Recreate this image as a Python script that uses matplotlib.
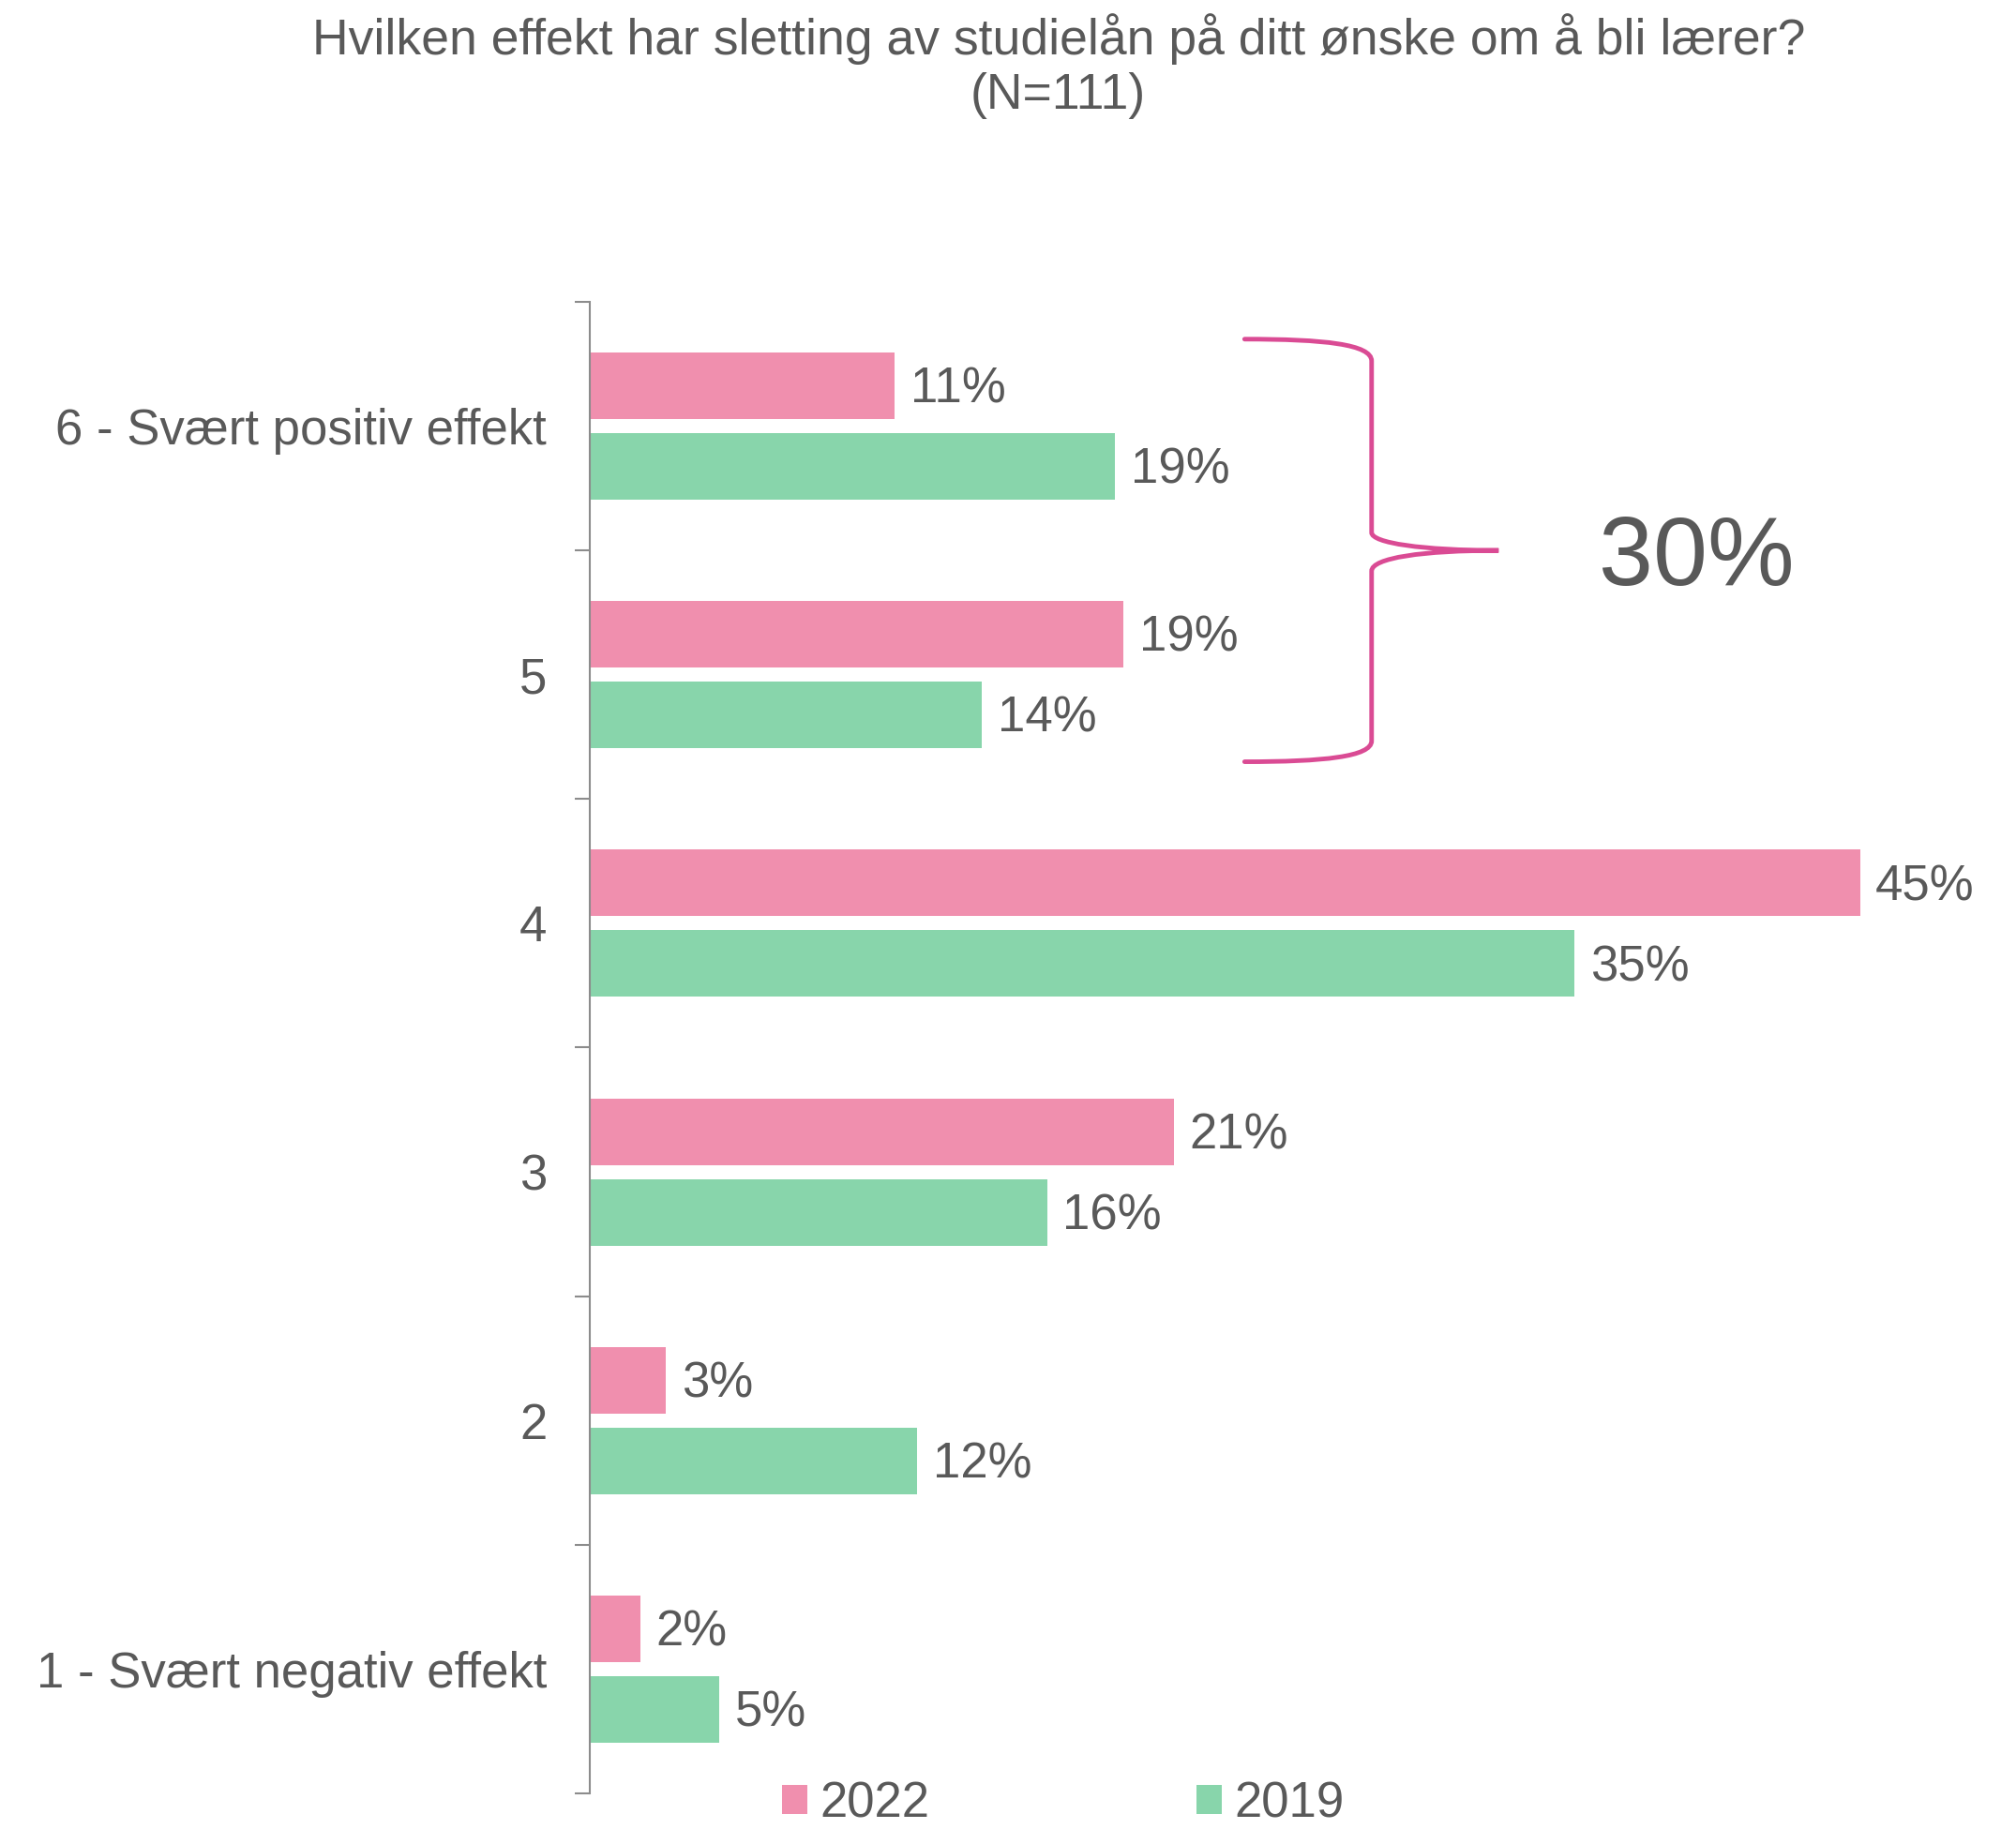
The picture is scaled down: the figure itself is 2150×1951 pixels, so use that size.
import matplotlib
matplotlib.use("Agg")
import matplotlib.pyplot as plt
from matplotlib.path import Path
import matplotlib.patches as patches
import numpy as np

plt.rcParams['font.family'] = ['Liberation Sans', 'DejaVu Sans']

# data (top to bottom)
categories = ["6 - Svært positiv effekt", "5", "4", "3", "2", "1 - Svært negativ effekt"]
series_names = ["2022", "2019"]
values_2022 = [10.8, 18.9, 45.0, 20.7, 2.7, 1.8]
values_2019 = [18.6, 13.9, 34.9, 16.2, 11.6, 4.6]
brace_total = "30%"

pink = "#F08FAE"
green = "#88D5AB"
brace_col = "#DA4B94"
txt = "#595959"
spine_col = "#8C8C8C"

fig = plt.figure(figsize=(21.5, 19.51), dpi=100)
ax = fig.add_axes([0.29256, 0.01948, 0.7, 0.81548])

y = np.arange(len(categories))
h = 0.268
off = 0.162
b1 = ax.barh(y - off, values_2022, height=h, color=pink, label=series_names[0])
b2 = ax.barh(y + off, values_2019, height=h, color=green, label=series_names[1])

for bars, vals in ((b1, values_2022), (b2, values_2019)):
    for rect, v in zip(bars, vals):
        ax.annotate(f"{int(v + 0.5)}%", (v, rect.get_y() + rect.get_height() / 2),
                    xytext=(12, -3), textcoords="offset points",
                    ha="left", va="center", fontsize=38, color=txt, clip_on=False)

ax.set_xlim(0, 50)
ax.set_ylim(len(categories) - 0.5, -0.5)

# ticks on category boundaries, labels at centres
ax.set_yticks(np.arange(-0.5, len(categories), 1.0))
ax.set_yticklabels([])
ax.set_yticks(y, minor=True)
ax.set_yticklabels(categories, minor=True, fontsize=38, color=txt)
ax.tick_params(axis="y", which="major", length=11.5, width=1.5, color=spine_col, direction="out")
ax.tick_params(axis="y", which="minor", length=0, pad=33)
ax.set_xticks([])
for s in ("top", "right", "bottom"):
    ax.spines[s].set_visible(False)
ax.spines["left"].set_color(spine_col)
ax.spines["left"].set_linewidth(1.5)

# curly brace over top two categories
x0, xv, xt = 23.2, 27.7, 32.2
verts = [
    (x0, -0.35), (26.0, -0.35), (xv, -0.33), (xv, -0.262),
    (xv, 0.428),
    (xv, 0.47), (29.5, 0.5), (xt, 0.5),
    (29.5, 0.5), (xv, 0.53), (xv, 0.583),
    (xv, 1.266),
    (xv, 1.33), (26.0, 1.35), (x0, 1.35),
]
codes = [Path.MOVETO, Path.CURVE4, Path.CURVE4, Path.CURVE4,
         Path.LINETO,
         Path.CURVE4, Path.CURVE4, Path.CURVE4,
         Path.CURVE4, Path.CURVE4, Path.CURVE4,
         Path.LINETO,
         Path.CURVE4, Path.CURVE4, Path.CURVE4]
ax.add_patch(patches.PathPatch(Path(verts, codes), fill=False, edgecolor=brace_col,
                               lw=3.5, capstyle="round", clip_on=False))
ax.text(39.2, 0.54, brace_total, ha="center", va="center", fontsize=75, color=txt)

# title
fig.text(0.525, 0.993, "Hvilken effekt har sletting av studielån på ditt ønske om å bli lærer?\n(N=111)",
         ha="center", va="top", fontsize=38.5, color=txt, linespacing=1.22)

# legend
fig.legend(handles=[b1, b2], labels=series_names, loc="center left",
           bbox_to_anchor=(0.388, 0.0138), ncol=2, frameon=False, fontsize=38,
           handlelength=0.51, handleheight=0.51, handletextpad=0.25,
           columnspacing=5.4, borderpad=0, borderaxespad=0, labelcolor=txt)

fig.savefig("out.png", dpi=100)
